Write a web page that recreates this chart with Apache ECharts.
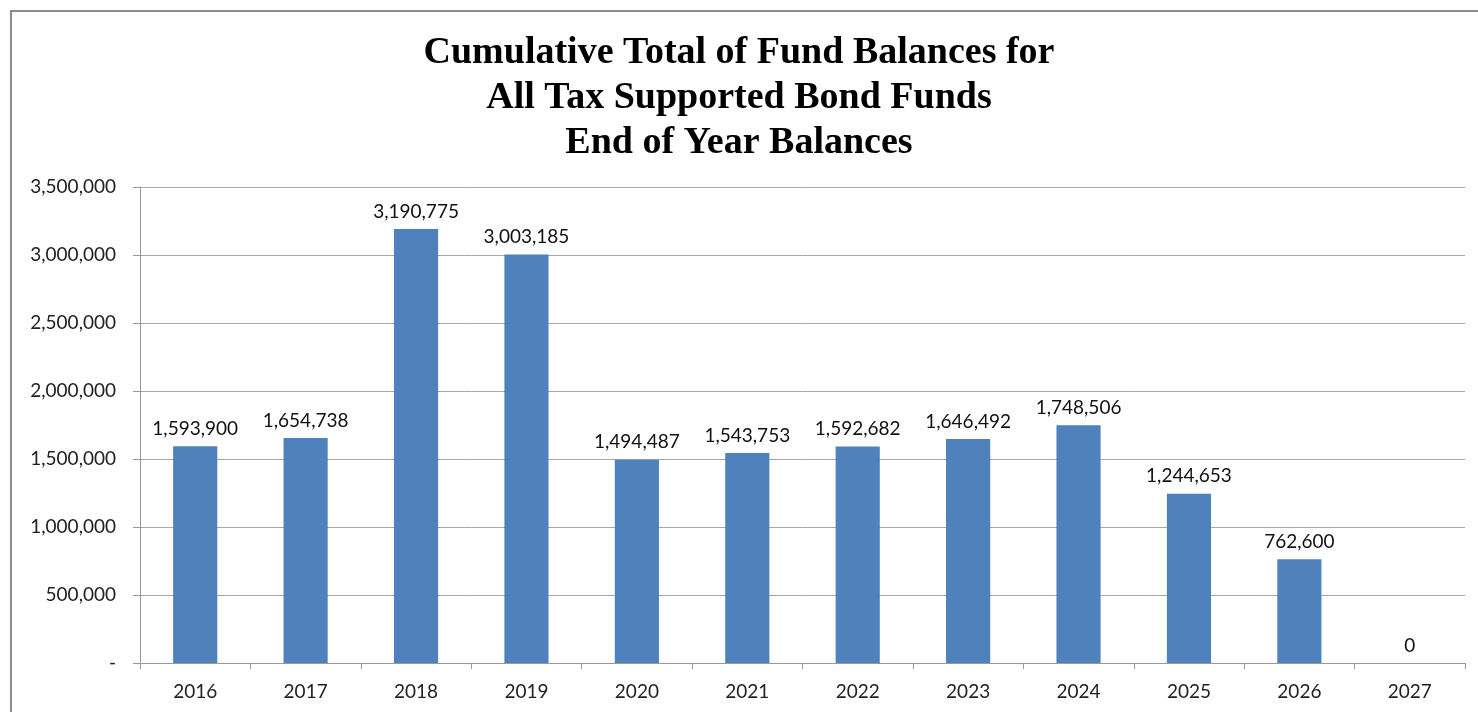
<!DOCTYPE html>
<html>
<head>
<meta charset="utf-8">
<title>Cumulative Total of Fund Balances</title>
<script src="https://cdn.jsdelivr.net/npm/echarts@6/dist/echarts.min.js"></script>
<style>
  html, body { margin: 0; padding: 0; background: #ffffff; }
  #chart { width: 1478px; height: 712px; }
</style>
</head>
<body>
<div id="chart"></div>
<script>
// End-of-year balances for all tax supported bond funds
const years = ['2016', '2017', '2018', '2019', '2020', '2021', '2022', '2023', '2024', '2025', '2026', '2027'];
const balances = [1593900, 1654738, 3190775, 3003185, 1494487, 1543753, 1592682, 1646492, 1748506, 1244653, 762600, 0];
const titleLines = ['Cumulative Total of Fund Balances for', 'All Tax Supported Bond Funds', 'End of Year Balances'];

const fmt = v => v.toLocaleString('en-US');
const labelFont = 'Lato, "Open Sans", sans-serif';

const chart = echarts.init(document.getElementById('chart'), null, { renderer: 'canvas' });
chart.setOption({
  animation: false,
  backgroundColor: '#ffffff',
  graphic: [{
    type: 'rect',
    shape: { x: 11, y: 11, width: 1500, height: 760 },
    style: { fill: 'none', stroke: '#8c8c8c', lineWidth: 2 },
    silent: true
  }],
  title: {
    text: titleLines.join('\n'),
    left: 'center',
    top: 26,
    textStyle: {
      fontFamily: '"Liberation Serif", "Times New Roman", serif',
      fontWeight: 'bold',
      fontSize: 38,
      lineHeight: 45,
      color: '#000000'
    }
  },
  grid: { left: 140, right: 13, top: 187, bottom: 49, containLabel: false },
  xAxis: {
    type: 'category',
    data: years,
    boundaryGap: true,
    axisLine: { lineStyle: { color: '#999999', width: 1 } },
    axisTick: { show: true, length: 6, alignWithLabel: false, lineStyle: { color: '#999999' } },
    axisLabel: { color: '#222222', fontFamily: labelFont, fontSize: 19, margin: 19 }
  },
  yAxis: {
    type: 'value',
    min: 0,
    max: 3500000,
    interval: 500000,
    axisLine: { show: true, lineStyle: { color: '#999999', width: 1 } },
    axisTick: { show: true, length: 7, inside: false, lineStyle: { color: '#999999' } },
    splitLine: { lineStyle: { color: '#a6a6a6', width: 1 } },
    axisLabel: {
      color: '#222222',
      fontFamily: labelFont,
      fontSize: 19,
      margin: 24,
      formatter: v => (v === 0 ? '-' : fmt(v))
    }
  },
  series: [{
    type: 'bar',
    data: balances,
    barWidth: '40%',
    itemStyle: { color: '#4f81bd' },
    label: {
      show: true,
      position: 'top',
      distance: 8,
      color: '#111111',
      fontFamily: labelFont,
      fontSize: 19,
      formatter: p => fmt(p.value)
    }
  }]
});
</script>
</body>
</html>
